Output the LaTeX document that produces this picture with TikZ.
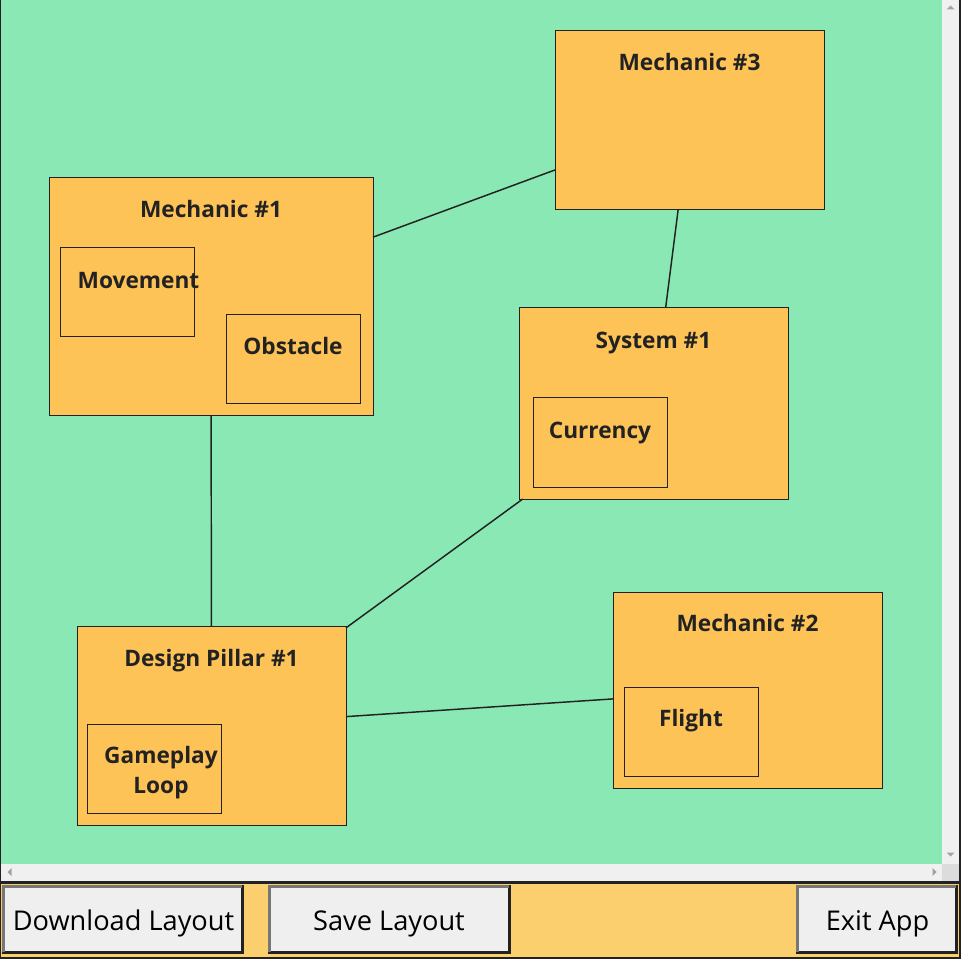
\documentclass[tikz,border=0pt]{standalone}
\usepackage{fontspec}
\setmainfont{Open Sans}
\usetikzlibrary{fit,calc}

\definecolor{canvas}{HTML}{8AE8B5}
\definecolor{card}{HTML}{FDC357}
\definecolor{panel}{HTML}{FBCF6E}
\definecolor{ink}{HTML}{222222}
\definecolor{bar}{HTML}{F0F0F0}
\definecolor{barcorner}{HTML}{DCDCDC}
\definecolor{barglyph}{HTML}{A3A3A3}
\definecolor{btnface}{HTML}{EFEFEF}
\definecolor{btnlight}{HTML}{777777}

\begin{document}
\begin{tikzpicture}[
    x=0.75pt, y=-0.75pt,
    font=\bfseries\fontsize{17}{22.5}\selectfont,
    card/.style  ={draw=ink, line width=0.75pt, fill=card, inner sep=0pt,
                   outer sep=0pt, fit={#1}},
    sub/.style   ={draw=ink, line width=0.75pt, inner sep=0pt, outer sep=0pt,
                   fit={#1}},
    title/.style ={text=ink, inner sep=0pt, text height=12.1pt, text depth=0pt},
    tag/.style   ={title},
    link/.style  ={ink, line width=1.1pt},
    btn/.style   ={draw=ink, line width=2.25pt, fill=btnface, inner sep=0pt,
                   outer sep=0pt, fit={#1}},
    btntext/.style={text=black, inner sep=0pt, text height=14.3pt, text depth=0pt,
                   font=\mdseries\fontsize{20.4}{24}\selectfont},
    bevel/.style ={btnlight, line width=2.25pt},
  ]
  \useasboundingbox (0,0) rectangle (961,959);

  % ---------------------------------------------------------- window frame ---
  \fill[ink]       (0,0) rectangle (961,959);
  \fill[canvas]    (1,0) rectangle (942,864);
  \fill[bar]       (942,0) rectangle (959,864);
  \fill[bar]       (1,864) rectangle (942,881);
  \fill[barcorner] (942,864) rectangle (959,881);
  \fill[panel]     (1,883.5) rectangle (959,957);

  % scrollbar arrows
  \fill[barglyph] (946.5,9.5) -- (954.5,9.5) -- (950.5,5.5) -- cycle;
  \fill[barglyph] (946.5,852.5) -- (954.5,852.5) -- (950.5,856.5) -- cycle;
  \fill[barglyph] (11.5,868) -- (11.5,876) -- (7.5,872) -- cycle;
  \fill[barglyph] (932.5,868) -- (932.5,876) -- (936.5,872) -- cycle;

  % ------------------------------------------------------------ mechanics ---
  \node[card={(555,31)(824,210)}] (mech3) {};
  \node[title] (mech3t) at ($(mech3.north)+(0,31)$) {Mechanic \#3};

  \node[card={(49,178)(373,416)}] (mech1) {};
  \node[title] (mech1t) at ($(mech1.north)+(0,31)$) {Mechanic \#1};
  \node[sub={(60,248)(194,337)}] (move) {};
  \node[tag] (movet) at (138.5,280) {Movement};
  \node[sub={(226,315)(360,404)}] (obst) {};
  \node[tag] (obstt) at ($(obst.north)+(0,31)$) {Obstacle};

  \node[card={(613,592)(882,788)}] (mech2) {};
  \node[title] (mech2t) at ($(mech2.north)+(0,31)$) {Mechanic \#2};
  \node[sub={(624,687)(758,776)}] (flight) {};
  \node[tag] (flightt) at ($(flight.north)+(0,31)$) {Flight};

  % --------------------------------------------------------------- system ---
  \node[card={(519,308)(788,499)}] (sys1) {};
  \node[title] (sys1t) at ($(sys1.north)+(0,32)$) {System \#1};
  \node[sub={(533,398)(667,487)}] (curr) {};
  \node[tag] (currt) at ($(curr.north)+(0,32)$) {Currency};

  % -------------------------------------------------------- design pillar ---
  \node[card={(77,626)(346,825)}] (pillar) {};
  \node[title] (pillart) at ($(pillar.north)+(0,32)$) {Design Pillar \#1};
  \node[sub={(87,724)(221,813)}] (loop) {};
  \node[text=ink, inner sep=0pt, align=center] (loopt) at (161,773) {Gameplay\\Loop};

  % ================================================================ edges ===
  \draw[link] (mech1) -- (mech3);
  \draw[link] (mech3) -- (sys1);
  \draw[link] (mech1) -- (pillar);
  \draw[link] (sys1)  -- (pillar);
  \draw[link] (pillar) -- (mech2);

  % -------------------------------------------------------------- buttons ---
  \node[btn={(3,886)(242,952)}] (download) {};
  \draw[bevel] (download.south west) |- (download.north east);
  \node[btntext] (downloadt) at ($(download.center)+(1,2)$) {Download Layout};
  \node[btn={(269,886)(509,952)}] (save) {};
  \draw[bevel] (save.south west) |- (save.north east);
  \node[btntext] (savet) at ($(save.center)+(0,2)$) {Save Layout};
  \node[btn={(797,886)(956,952)}] (exit) {};
  \draw[bevel] (exit.south west) |- (exit.north east);
  \node[btntext] (exitt) at ($(exit.center)+(1,2)$) {Exit App};

\end{tikzpicture}
\end{document}
